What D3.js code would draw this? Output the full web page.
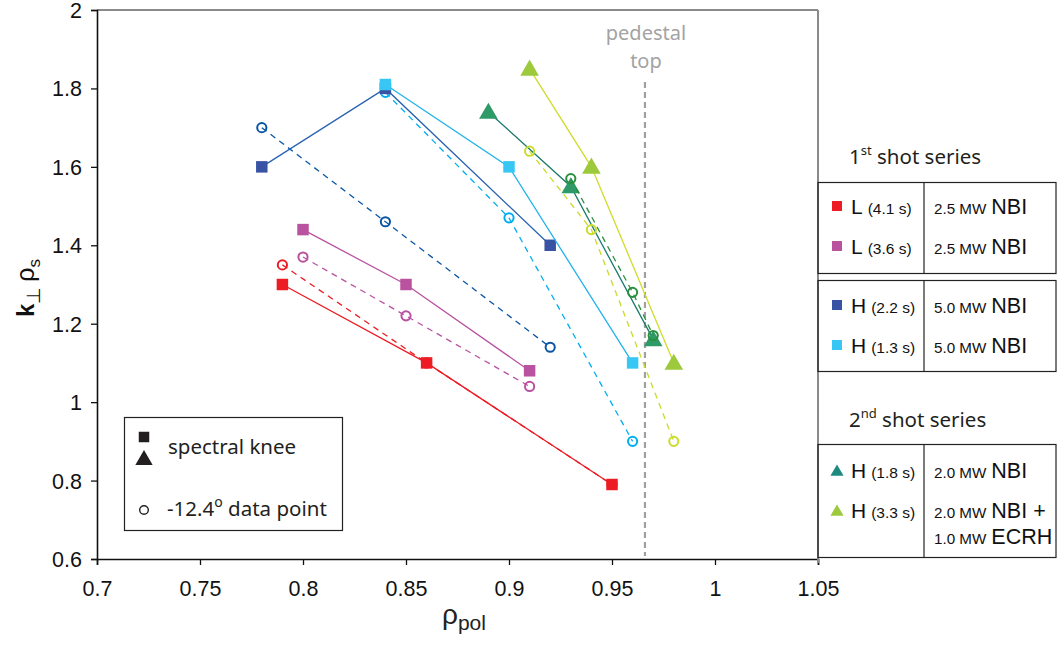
<!DOCTYPE html>
<html>
<head>
<meta charset="utf-8">
<script src="https://cdn.jsdelivr.net/npm/d3@7/dist/d3.min.js"></script>
<style>
  html, body { margin: 0; padding: 0; background: #fff; }
  svg { display: block; }
  .tick text { font-family: "Liberation Sans", Arial, sans-serif; }
</style>
</head>
<body>
<svg id="chart" width="1057" height="647"></svg>
<script>
// ---- data -------------------------------------------------------------
const xTicks = [0.7, 0.75, 0.8, 0.85, 0.9, 0.95, 1, 1.05];
const yTicks = [0.6, 0.8, 1, 1.2, 1.4, 1.6, 1.8, 2];

// spectral knee positions (rho_pol, k_perp*rho_s)
const kneeL41  = [[0.79, 1.30], [0.86, 1.10], [0.95, 0.79]];
const kneeL36  = [[0.80, 1.44], [0.85, 1.30], [0.91, 1.08]];
const kneeH22  = [[0.78, 1.60], [0.84, 1.80], [0.92, 1.40]];
const kneeH13  = [[0.84, 1.81], [0.90, 1.60], [0.96, 1.10]];
const kneeH18  = [[0.89, 1.74], [0.93, 1.55], [0.97, 1.16]];
const kneeH33  = [[0.91, 1.85], [0.94, 1.60], [0.98, 1.10]];

// -12.4 deg data points
const ptL41 = [[0.79, 1.35], [0.86, 1.10], [0.95, 0.79]];
const ptL36 = [[0.80, 1.37], [0.85, 1.22], [0.91, 1.04]];
const ptH22 = [[0.78, 1.70], [0.84, 1.46], [0.92, 1.14]];
const ptH13 = [[0.84, 1.79], [0.90, 1.47], [0.96, 0.90]];
const ptH18 = [[0.93, 1.57], [0.96, 1.28], [0.97, 1.17]];
const ptH33 = [[0.91, 1.64], [0.94, 1.44], [0.98, 0.90]];

const pedestalTop = 0.966;

// ---- layout -----------------------------------------------------------
const svg = d3.select("#chart");
const plot = { left: 97, right: 818, top: 10, bottom: 559 };
const x = d3.scaleLinear().domain([0.7, 1.05]).range([plot.left, plot.right]);
const y = d3.scaleLinear().domain([0.6, 2]).range([plot.bottom, plot.top]);

const line = d3.line().x(d => x(d[0])).y(d => y(d[1]));
const sansLabel = "'Noto Sans', 'Open Sans', sans-serif";
const arial = "'Liberation Sans', Arial, sans-serif";

// frame: gray top and right borders
svg.append("line").attr("x1", plot.left).attr("x2", plot.right)
  .attr("y1", plot.top).attr("y2", plot.top)
  .attr("stroke", "#8a8a8a").attr("stroke-width", 2);
svg.append("line").attr("x1", plot.right).attr("x2", plot.right)
  .attr("y1", plot.top).attr("y2", plot.bottom + 1)
  .attr("stroke", "#8a8a8a").attr("stroke-width", 2);

// axes
const xAxis = d3.axisBottom(x).tickValues(xTicks).tickSize(6).tickPadding(11)
  .tickFormat(d => d3.format("")(+d.toFixed(2)));
const yAxis = d3.axisLeft(y).tickValues(yTicks).tickSize(6).tickPadding(9)
  .tickFormat(d => d3.format("")(+d.toFixed(1)));

const gx = svg.append("g").attr("transform", `translate(0,${plot.bottom})`).call(xAxis);
const gy = svg.append("g").attr("transform", `translate(${plot.left},0)`).call(yAxis);
[gx, gy].forEach(g => {
  g.select(".domain").attr("stroke", "#111").attr("stroke-width", 1.6);
  g.selectAll(".tick line").attr("stroke", "#111").attr("stroke-width", 1.3);
  g.selectAll(".tick text").attr("fill", "#111").style("font-size", "21.5px");
});
gx.selectAll(".tick text").attr("dy", "0.95em");
gy.selectAll(".tick text").attr("dy", "0.35em");

// pedestal top marker
svg.append("line")
  .attr("x1", x(pedestalTop)).attr("x2", x(pedestalTop))
  .attr("y1", 82).attr("y2", plot.bottom - 3)
  .attr("stroke", "#a0a0a0").attr("stroke-width", 2.2)
  .attr("stroke-dasharray", "6,4");
svg.append("text").attr("x", x(pedestalTop) + 1).attr("y", 40)
  .attr("text-anchor", "middle").attr("fill", "#a3a3a3")
  .style("font-family", sansLabel).style("font-size", "20px").text("pedestal");
svg.append("text").attr("x", x(pedestalTop) + 1).attr("y", 68)
  .attr("text-anchor", "middle").attr("fill", "#a3a3a3")
  .style("font-family", sansLabel).style("font-size", "20px").text("top");

// ---- series -----------------------------------------------------------
const sq = d3.symbol().type(d3.symbolSquare).size(132);
const tri = d3.symbol().type(d3.symbolTriangle).size(150);

function knees(data, lineColor, fill, shape) {
  const g = svg.append("g");
  g.append("path").attr("d", line(data)).attr("fill", "none")
    .attr("stroke", lineColor).attr("stroke-width", 1.3);
  g.selectAll("path.m").data(data).join("path").attr("class", "m")
    .attr("transform", d => `translate(${x(d[0])},${y(d[1]) + (shape === tri ? 1.5 : 0)})`)
    .attr("d", shape()).attr("fill", fill);
}
function points(data, color) {
  const g = svg.append("g");
  g.append("path").attr("d", line(data)).attr("fill", "none")
    .attr("stroke", color).attr("stroke-width", 1.3).attr("stroke-dasharray", "6,5");
  g.selectAll("circle").data(data).join("circle")
    .attr("cx", d => x(d[0])).attr("cy", d => y(d[1])).attr("r", 4.6)
    .attr("fill", "none").attr("stroke", color).attr("stroke-width", 2);
}

const cRed = "#ed1c24", cMag = "#b9529f", cDB = "#3953a4", cDBl = "#2a63b0",
      cDBc = "#0b56a4", cLB = "#38c6f4", cLBl = "#22b3ea", cLBc = "#00aeef",
      cDG = "#2e9a68", cDGl = "#1c7a6c", cDGc = "#2a8f3c",
      cLG = "#9dca3c", cLGl = "#cfdc2c", cLGc = "#cbdb2a";

points(ptH13, cLBc);
points(ptH22, cDBc);
knees(kneeH22, cDBl, cDB, sq);
knees(kneeH13, cLBl, cLB, sq);
knees(kneeL41, cRed, cRed, sq);
points(ptL41, cRed);
knees(kneeL36, cMag, cMag, sq);
points(ptL36, cMag);
knees(kneeH18, cDGl, cDG, tri);
points(ptH18, cDGc);
knees(kneeH33, cLGl, cLG, tri);
points(ptH33, cLGc);

// ---- axis titles ------------------------------------------------------
const yl = svg.append("text")
  .attr("transform", "translate(34,288) rotate(-90)")
  .attr("text-anchor", "middle").attr("fill", "#111")
  .style("font-family", arial);
yl.append("tspan").style("font-size", "24px").style("font-weight", "bold").text("k");
yl.append("tspan").attr("dy", 6).style("font-size", "19px").text("⊥");
yl.append("tspan").attr("dy", -6).attr("dx", 5).style("font-size", "25px").text("ρ");
yl.append("tspan").attr("dy", 6).style("font-size", "17px").text("s");

const xl = svg.append("text").attr("x", 442).attr("y", 624).attr("fill", "#222")
  .style("font-family", arial);
xl.append("tspan").style("font-size", "28px").text("ρ");
xl.append("tspan").attr("dy", 6).style("font-size", "21px").text("pol");

// ---- inner legend -----------------------------------------------------
svg.append("rect").attr("x", 124.5).attr("y", 417.5).attr("width", 218).attr("height", 113)
  .attr("fill", "#fff").attr("stroke", "#222").attr("stroke-width", 1.2);
svg.append("path").attr("transform", "translate(144,437)")
  .attr("d", d3.symbol().type(d3.symbolSquare).size(110)()).attr("fill", "#231f20");
svg.append("path").attr("transform", "translate(144,460)")
  .attr("d", d3.symbol().type(d3.symbolTriangle).size(130)()).attr("fill", "#231f20");
svg.append("circle").attr("cx", 144).attr("cy", 510).attr("r", 4.3)
  .attr("fill", "none").attr("stroke", "#231f20").attr("stroke-width", 1.4);
svg.append("text").attr("x", 168).attr("y", 454).attr("fill", "#231f20")
  .style("font-family", sansLabel).style("font-size", "20.5px").text("spectral knee");
const dp = svg.append("text").attr("x", 167).attr("y", 516).attr("fill", "#231f20")
  .style("font-family", sansLabel).style("font-size", "20.5px");
dp.append("tspan").text("-12.4");
dp.append("tspan").attr("dy", -9).style("font-size", "14px").text("o");
dp.append("tspan").attr("dy", 9).text(" data point");

// ---- right-hand legend tables -----------------------------------------
const legendRows1 = [
  { mode: "L", time: "(4.1 s)", color: cRed, shape: "square", heat: [["2.5 MW", "NBI"]] },
  { mode: "L", time: "(3.6 s)", color: cMag, shape: "square", heat: [["2.5 MW", "NBI"]] }
];
const legendRows2 = [
  { mode: "H", time: "(2.2 s)", color: cDB, shape: "square", heat: [["5.0 MW", "NBI"]] },
  { mode: "H", time: "(1.3 s)", color: cLB, shape: "square", heat: [["5.0 MW", "NBI"]] }
];
const legendRows3 = [
  { mode: "H", time: "(1.8 s)", color: "#1d8a80", shape: "triangle", heat: [["2.0 MW", "NBI"]] },
  { mode: "H", time: "(3.3 s)", color: cLG, shape: "triangle", heat: [["2.0 MW", "NBI +"], ["1.0 MW", "ECRH"]] }
];

function series(label, sup, yPos) {
  const t = svg.append("text").attr("x", 849).attr("y", yPos).attr("fill", "#231f20")
    .style("font-family", sansLabel).style("font-size", "20.5px");
  t.append("tspan").text(label);
  t.append("tspan").attr("dy", -9).style("font-size", "13px").text(sup);
  t.append("tspan").attr("dy", 9).text(" shot series");
}
function table(rows, top, height, rowY) {
  svg.append("rect").attr("x", 818).attr("y", top).attr("width", 238).attr("height", height)
    .attr("fill", "none").attr("stroke", "#222").attr("stroke-width", 1.2);
  svg.append("line").attr("x1", 924).attr("x2", 924).attr("y1", top).attr("y2", top + height)
    .attr("stroke", "#222").attr("stroke-width", 1.2);
  rows.forEach((r, i) => {
    const by = rowY[i];
    if (r.shape === "square") {
      svg.append("rect").attr("x", 832).attr("y", by - 13).attr("width", 10).attr("height", 10)
        .attr("fill", r.color);
    } else {
      svg.append("path").attr("transform", `translate(837,${by - 6})`)
        .attr("d", d3.symbol().type(d3.symbolTriangle).size(75)()).attr("fill", r.color);
    }
    const t = svg.append("text").attr("x", 851).attr("y", by).attr("fill", "#111")
      .style("font-family", arial);
    t.append("tspan").style("font-size", "21px").text(r.mode);
    t.append("tspan").attr("dx", 5).style("font-size", "15.5px").text(r.time);
    r.heat.forEach((h, j) => {
      const u = svg.append("text").attr("x", 934).attr("y", by + j * 26).attr("fill", "#111")
        .style("font-family", arial);
      u.append("tspan").style("font-size", "15.2px").text(h[0]);
      u.append("tspan").attr("dx", 5).style("font-size", "21.5px").text(h[1]);
    });
  });
}

// continuous left edge of the legend column
svg.append("line").attr("x1", 818).attr("x2", 818).attr("y1", 130).attr("y2", 563)
  .attr("stroke", "#8a8a8a").attr("stroke-width", 2);

series("1", "st", 164);
table(legendRows1, 182.5, 91, [214, 254]);
table(legendRows2, 280.5, 91, [313, 353]);
series("2", "nd", 427);
table(legendRows3, 444.5, 113, [478, 518]);
</script>
</body>
</html>
